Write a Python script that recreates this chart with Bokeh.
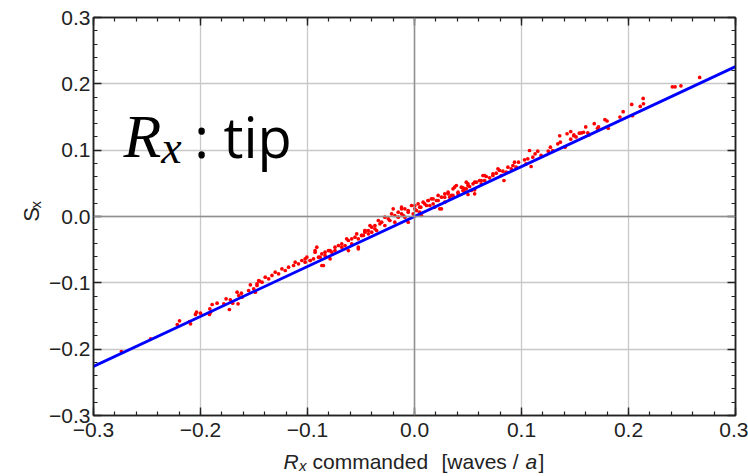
import math
from bokeh.plotting import figure
from bokeh.layouts import column, row
from bokeh.models import (FixedTicker, CustomJSTickFormatter, LinearAxis, Span,
                          Label, Range1d)
from bokeh.core.properties import value
from bokeh.embed import file_html
from bokeh.resources import INLINE

# ---------------- data ----------------
tick_values = [-0.3, -0.2, -0.1, 0.0, 0.1, 0.2, 0.3]

fit_x = [-0.3, 0.3]
fit_y = [-0.226, 0.226]

x_cmd = [
    0.2665, 0.241, 0.2435, 0.249, 0.2137, 0.214, 0.211, 0.203, 0.195, 0.192,
    0.2037, 0.178, 0.180, 0.168, 0.172, 0.171, 0.181, 0.160, 0.158, 0.162,
    0.156, 0.163, 0.146, 0.149, 0.151,
    0.1357, 0.1426, 0.1488, 0.146, 0.154, 0.1339, 0.1363, 0.1407, 0.127, 0.125,
    0.1292, 0.1152, 0.1127, 0.1183, 0.1075, 0.1106, 0.1059, 0.1028, 0.109, 0.1043,
    0.0972, 0.0935, 0.092, 0.095, 0.0904, 0.0873, 0.0826, 0.0857, 0.0795, 0.0764,
    0.0811, 0.0836, 0.0733, 0.0702, 0.0671, 0.064, 0.0655, 0.0608, 0.0578, 0.0624,
    0.0547, 0.0515, 0.0484, 0.0531, 0.0453, 0.0469, 0.0562, 0.05,
    0.0484, 0.05, 0.0438, 0.0391, 0.036, 0.0407, 0.0314, 0.0283, 0.0329, 0.0252,
    0.0221, 0.0205, 0.0158, 0.0174, 0.0127, 0.0112, 0.0081, 0.0059, 0.0034, 0.0003,
    -0.0028, -0.0059, -0.009, 0.0236, -0.0121, -0.0152, -0.0184, -0.0214, -0.0245, -0.0277,
    -0.0307, -0.0338, -0.037, -0.04, -0.0431, -0.0463, -0.0478, -0.0354, -0.009, 0.0049,
    0.0283, 0.0453, 0.0345, -0.0199, -0.0121, 0.0189,
    0.078, 0.0733, 0.0655, 0.0624, 0.0562, 0.05, 0.0469, 0.0375, 0.0407, 0.0314,
    0.0283, 0.0221, 0.0174, 0.0143, 0.0096, 0.0049, 0.0019, -0.0012, -0.0059, -0.0105,
    -0.0152, -0.0184, -0.023, -0.0277, -0.0323, -0.037, -0.04, -0.0463, -0.0494, -0.054,
    -0.0587, -0.0634, -0.068, -0.0743, -0.0789, -0.0836, -0.0882, -0.0929, -0.0975, -0.1022,
    -0.0866, -0.0525, -0.0059, 0.0065, 0.0252, 0.0562, 0.036, -0.0121, 0.0003, 0.0127,
    -0.0416, -0.0463, -0.0431, -0.0494, -0.0525, -0.0556, -0.0587, -0.0618, -0.0649, -0.068,
    -0.0711, -0.0743, -0.0773, -0.0804, -0.0836, -0.0866, -0.0897, -0.0929, -0.0944, -0.0975,
    -0.1006, -0.1022, -0.1053, -0.1084, -0.1115, -0.113, -0.1177, -0.1208, -0.1239, -0.127,
    -0.1302, -0.1332, -0.1363, -0.1395, -0.1425, -0.1456, -0.1472, -0.0851, -0.0789, -0.0913,
    -0.0618, -0.0525,
    -0.2739, -0.2466, -0.2217, -0.2196, -0.2103, -0.2093, -0.2037, -0.2, -0.2047, -0.1913,
    -0.1891, -0.1845, -0.1916, -0.1907, -0.1782, -0.1761, -0.1721, -0.173, -0.1699, -0.1649,
    -0.1658, -0.1618, -0.1643, -0.1612, -0.1534, -0.155, -0.1503, -0.1472, -0.145, -0.1488,
]
s_x = [
    0.2096, 0.1955, 0.1955, 0.197, 0.178, 0.170, 0.166, 0.169, 0.158, 0.150,
    0.152, 0.146, 0.144, 0.140, 0.135, 0.133, 0.133, 0.135, 0.127, 0.126,
    0.126, 0.123, 0.128, 0.123, 0.120,
    0.1217, 0.1247, 0.1217, 0.1166, 0.1256, 0.1096, 0.112, 0.1045, 0.1045, 0.0985,
    0.0995, 0.0985, 0.0945, 0.092, 0.0995, 0.0894, 0.087, 0.0855, 0.0754, 0.0794,
    0.0819, 0.0819, 0.0769, 0.0744, 0.0719, 0.0744, 0.0683, 0.0668, 0.0694, 0.0653,
    0.0618, 0.0543, 0.0618, 0.0583, 0.0603, 0.0618, 0.0543, 0.0543, 0.0517, 0.0493,
    0.0493, 0.0452, 0.0417, 0.0392, 0.0432, 0.0366, 0.0402, 0.0332,
    0.0517, 0.0467, 0.0442, 0.0467, 0.0417, 0.0366, 0.0366, 0.0342, 0.0291, 0.0291,
    0.0317, 0.0241, 0.0267, 0.0191, 0.0241, 0.0166, 0.0216, 0.014, 0.0191, 0.0116,
    0.0166, 0.009, 0.0116, 0.0116, 0.0041, 0.0065, 0.0015, 0.0041, -0.0035, -0.001,
    -0.0086, -0.006, -0.0136, -0.0161, -0.0211, -0.0237, -0.0286, -0.0211, -0.001, 0.0065,
    0.0216, 0.0392, 0.0317, 0.0116, 0.014, 0.014,
    0.0719, 0.0644, 0.0618, 0.0543, 0.0517, 0.0493, 0.0417, 0.0442, 0.0342, 0.0342,
    0.0291, 0.0241, 0.0267, 0.0166, 0.0191, 0.014, 0.009, 0.0041, 0.0065, 0.0015,
    -0.001, -0.0086, -0.006, -0.0136, -0.011, -0.0186, -0.0237, -0.0211, -0.0286, -0.0261,
    -0.0337, -0.0337, -0.0412, -0.0462, -0.0513, -0.0538, -0.0613, -0.0513, -0.0663, -0.0638,
    -0.0739, -0.0487, -0.0086, 0.0015, 0.0116, 0.0342, 0.0317, 0.0116, 0.0166, 0.0241,
    -0.0136, -0.0211, -0.0261, -0.0286, -0.0337, -0.0312, -0.0412, -0.0362, -0.0437, -0.0462,
    -0.0437, -0.0513, -0.0538, -0.0513, -0.0588, -0.0563, -0.0613, -0.0538, -0.0638, -0.0663,
    -0.0613, -0.0689, -0.0663, -0.0714, -0.0689, -0.0739, -0.0764, -0.0814, -0.0789, -0.0864,
    -0.0839, -0.0889, -0.0939, -0.0915, -0.099, -0.0965, -0.104, -0.0739, -0.0638, -0.0462,
    -0.0513, -0.0462,
    -0.2035, -0.1844, -0.1628, -0.1573, -0.1583, -0.1618, -0.1442, -0.1457, -0.1477, -0.1392,
    -0.1327, -0.1307, -0.1477, -0.1442, -0.1316, -0.1241, -0.1256, -0.1402, -0.1307, -0.1316,
    -0.1141, -0.1156, -0.1191, -0.1216, -0.103, -0.1116, -0.109, -0.1015, -0.0975, -0.1141,
]

# ---------------- page layout (pixels) ----------------
W, H = 748, 476
LEFT_W = 46          # strip holding the y-axis title
BOTTOM_H = 30        # strip holding the x-axis title
MAIN_W, MAIN_H = W - LEFT_W, H - BOTTOM_H
FL, FR, FT, FB = 91, 735, 17, 415   # plot frame in page pixels


def X(px):
    return -0.3 + (px - FL) * 0.6 / (FR - FL)


def Y(py):
    return 0.3 - (py - FT) * 0.6 / (FB - FT)


minor_vals = [round(-0.3 + 0.02 * i, 2) for i in range(31)]

p = figure(width=MAIN_W, height=MAIN_H, x_range=Range1d(-0.3, 0.3), y_range=Range1d(-0.3, 0.3),
           output_backend="svg", toolbar_location=None, title=None,
           min_border_left=FL - LEFT_W, min_border_right=W - FR,
           min_border_top=FT, min_border_bottom=MAIN_H - FB)
p.background_fill_color = "white"
p.border_fill_color = "white"
p.outline_line_color = "#222222"
p.outline_line_width = 1.5

fmt = CustomJSTickFormatter(code="""
    var s = Math.abs(tick).toFixed(1);
    return tick < -1e-9 ? "\u2212" + s : s;
""")
blank = CustomJSTickFormatter(code="return '';")


def style_axis(ax, labelled, standoff):
    ax.ticker = FixedTicker(ticks=tick_values, minor_ticks=minor_vals)
    ax.formatter = fmt if labelled else blank
    ax.axis_line_color = "#222222"
    ax.axis_line_width = 1.5
    ax.major_tick_in = 8
    ax.major_tick_out = 0
    ax.minor_tick_in = 4
    ax.minor_tick_out = 0
    ax.major_tick_line_color = "#222222"
    ax.major_tick_line_width = 1.4
    ax.minor_tick_line_color = "#222222"
    ax.minor_tick_line_width = 1.2
    if labelled:
        ax.major_label_text_font = "Liberation Sans"
        ax.major_label_text_font_size = "21px"
        ax.major_label_text_color = "#222222"
        ax.major_label_standoff = standoff
    else:
        ax.major_label_text_font_size = "0px"
        ax.major_label_standoff = 0


style_axis(p.xaxis[0], True, 7)
style_axis(p.yaxis[0], True, 3)
right_ax = LinearAxis()
top_ax = LinearAxis()
style_axis(right_ax, False, 0)
style_axis(top_ax, False, 0)
p.add_layout(right_ax, "right")
p.add_layout(top_ax, "above")

p.grid.grid_line_color = "#c8c8c8"
p.grid.grid_line_width = 1.3
p.add_layout(Span(location=0, dimension="height", line_color="#8f8f8f", line_width=1.5))
p.add_layout(Span(location=0, dimension="width", line_color="#8f8f8f", line_width=1.5))

p.scatter(x_cmd, s_x, size=3.7, marker="circle", fill_color="#ff0000", line_color=None)
p.line(fit_x, fit_y, line_color="#0000ff", line_width=2.8)

# ---- big annotation "R_x: tip" (inside the frame)
p.add_layout(Label(x=X(121), y=Y(135), text="R", text_font="Liberation Serif",
                   text_font_style="italic", text_font_size="62px", text_color="black",
                   text_baseline="alphabetic"))
p.add_layout(Label(x=X(159), y=Y(147), text="x", text_font="Liberation Serif",
                   text_font_style="italic", text_font_size="46px", text_color="black",
                   text_baseline="alphabetic"))
p.add_layout(Label(x=X(192), y=Y(135), text=": tip", text_font="Open Sans",
                   text_font_size="56px", text_color="black", text_baseline="alphabetic"))


def text_strip(width, height, x0, y0):
    f = figure(width=width, height=height, x_range=Range1d(x0, x0 + width),
               y_range=Range1d(-(y0 + height), -y0), output_backend="svg",
               toolbar_location=None, x_axis_type=None, y_axis_type=None,
               title=None, min_border=0)
    f.outline_line_color = None
    f.grid.visible = False
    f.background_fill_color = "white"
    f.border_fill_color = "white"
    return f


SANS = value("Liberation Sans")
INK = "#222222"

# ---- x axis title: R_x commanded  [waves / a]
bot = text_strip(W, BOTTOM_H, 0, MAIN_H)
base = 461
bot.text(x=[283, 525], y=[-base, -base], text=["R", "a"], text_font=SANS,
         text_font_style="italic", text_font_size=value("21px"), text_color=INK,
         text_baseline="alphabetic")
bot.text(x=[298.5], y=[-(base + 4)], text=["x"], text_font=SANS,
         text_font_style="italic", text_font_size=value("15px"), text_color=INK,
         text_baseline="alphabetic")
bot.text(x=[312, 441, 538], y=[-base, -base, -base], text=["commanded", "[waves /", "]"],
         text_font=SANS, text_font_size=value("21px"), text_color=INK,
         text_baseline="alphabetic")

# ---- y axis title: S_x (rotated)
lft = text_strip(LEFT_W, MAIN_H, 0, 0)
lft.text(x=[31], y=[-229], text=["S"], angle=math.pi / 2, text_font=SANS,
         text_font_size=value("22px"), text_color=INK, text_baseline="alphabetic")
lft.text(x=[34.5], y=[-214], text=["x"], angle=math.pi / 2, text_font=SANS,
         text_font_size=value("15px"), text_color=INK, text_baseline="alphabetic")

layout = column(row(lft, p, spacing=0), bot, spacing=0)
open("out.html", "w").write(file_html(layout, INLINE))
